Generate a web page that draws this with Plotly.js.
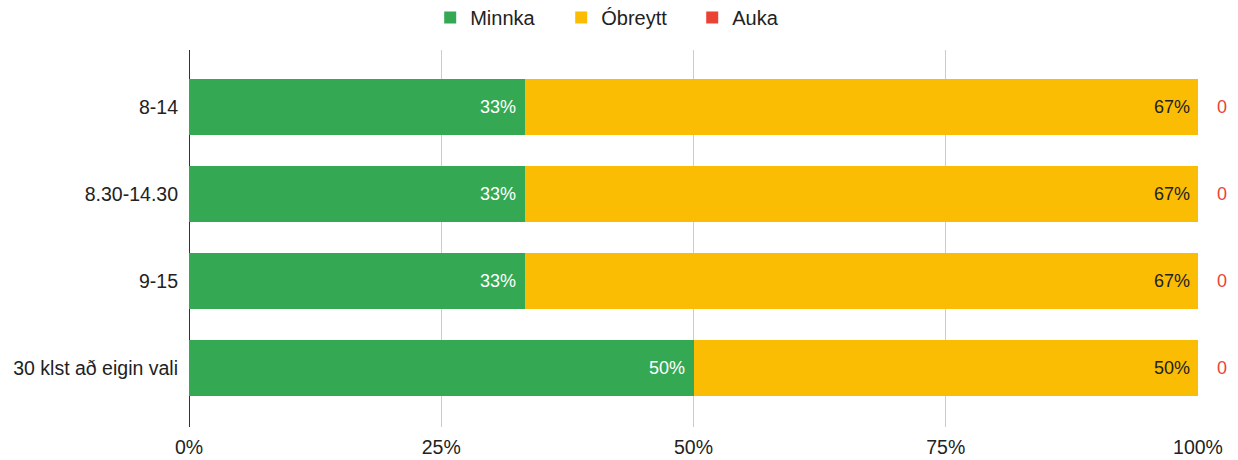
<!DOCTYPE html>
<html><head><meta charset="utf-8">
<script src="https://cdn.plot.ly/plotly-3.0.1.min.js"></script>
<style>body{margin:0;background:#fff}#c{width:1238px;height:460px}</style>
</head><body><div id="c"></div>
<script>
const categories = ["8-14", "8.30-14.30", "9-15", "30 klst að eigin vali"];
const minnka = [0.3333, 0.3333, 0.3333, 0.5];
const obreytt = [0.6667, 0.6667, 0.6667, 0.5];
const auka = [0, 0, 0, 0];
const seriesNames = ["Minnka", "Óbreytt", "Auka"];
const colors = ["#34a853", "#fbbc04", "#ea4335"];

const font = "'Liberation Sans', Arial, sans-serif";
const traces = [minnka, obreytt, auka].map((v, i) => ({
  type: "bar", orientation: "h", name: seriesNames[i], x: v, y: categories,
  marker: {color: colors[i]}, width: 0.644, hoverinfo: "skip"
}));

const annotations = [];
categories.forEach((c, k) => {
  annotations.push({x: minnka[k], y: c, xref: "x", yref: "y", text: Math.round(minnka[k]*100) + "%",
    showarrow: false, xanchor: "right", xshift: -7, font: {family: font, size: 18, color: "#ffffff"}});
  annotations.push({x: minnka[k] + obreytt[k], y: c, xref: "x", yref: "y", text: Math.round(obreytt[k]*100) + "%",
    showarrow: false, xanchor: "right", xshift: -6, font: {family: font, size: 18, color: "#222222"}});
  annotations.push({x: minnka[k] + obreytt[k] + auka[k], y: c, xref: "x", yref: "y", text: String(Math.round(auka[k]*100)),
    showarrow: false, xanchor: "left", xshift: 17, font: {family: font, size: 18, color: "#ea4335"}});
});

const layout = {
  width: 1238, height: 460, barmode: "stack",
  margin: {l: 189, r: 40, t: 50, b: 33, autoexpand: false},
  paper_bgcolor: "#fff", plot_bgcolor: "#fff",
  font: {family: font, size: 19, color: "#222"},
  showlegend: true,
  legend: {orientation: "h", x: 0.3475, xref: "container", xanchor: "left", y: 0.962, yref: "container", yanchor: "middle",
    font: {family: font, size: 20, color: "#222"}, traceorder: "normal", itemclick: false, entrywidth: 86},
  xaxis: {range: [0, 1], tickvals: [0, 0.25, 0.5, 0.75, 1], ticktext: ["0%", "25%", "50%", "75%", "100%"],
    showgrid: true, gridcolor: "#cccccc", gridwidth: 1, zeroline: true, zerolinecolor: "#333", zerolinewidth: 1,
    ticks: "", ticklabelstandoff: 6, fixedrange: true, tickfont: {size: 19.5, color: "#222"}, automargin: false},
  yaxis: {type: "category", categoryarray: categories, range: [3.678, -0.655], showgrid: false,
    zeroline: false, ticks: "", ticklabelstandoff: 10, fixedrange: true, tickfont: {size: 19.5, color: "#222"}, automargin: false},
  annotations: annotations
};
Plotly.newPlot("c", traces, layout, {displayModeBar: false, staticPlot: true});
</script></body></html>
